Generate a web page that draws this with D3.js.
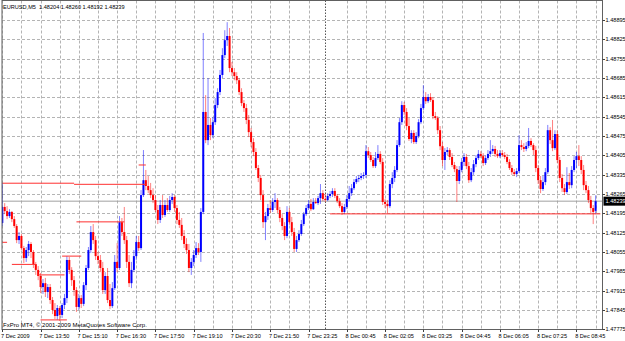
<!DOCTYPE html>
<html>
<head>
<meta charset="utf-8">
<script src="https://cdn.jsdelivr.net/npm/d3@7"></script>
<style>
  html, body { margin: 0; padding: 0; background: #fff; }
  svg { display: block; }
  text { font-family: "Liberation Sans", Arial, sans-serif; }
</style>
</head>
<body>
<div id="chart"></div>
<script>
// EURUSD M5 candlestick chart (MT4 style)

const chartTitle = "EURUSD,M5  1.48204 1.48260 1.48192 1.48239";
const copyright = "FxPro MT4, \u00a9 2001-2009 MetaQuotes Software Corp.";

const timeLabels = ["7 Dec 2009", "7 Dec 13:50", "7 Dec 15:10", "7 Dec 16:30", "7 Dec 17:50",
  "7 Dec 19:10", "7 Dec 20:30", "7 Dec 21:50", "7 Dec 23:25", "8 Dec 00:45", "8 Dec 02:05",
  "8 Dec 03:25", "8 Dec 04:45", "8 Dec 06:05", "8 Dec 07:25", "8 Dec 08:45"];

const priceTicks = [1.48895, 1.48825, 1.48755, 1.48685, 1.48615, 1.48545, 1.48475, 1.48405,
  1.48335, 1.48265, 1.48195, 1.48125, 1.48055, 1.47985, 1.47915, 1.47845, 1.47775];

const bidPrice = 1.48239;
const daySeparatorBar = 135;

const opens = [
  1.48160, 1.48218, 1.48203, 1.48185, 1.48200, 1.48174, 1.48149, 1.48098, 1.48113, 1.48069,
  1.48033, 1.48062, 1.48084, 1.48055, 1.48011, 1.47990, 1.47968, 1.47928, 1.47942, 1.47910,
  1.47928, 1.47881, 1.47845, 1.47823, 1.47852, 1.47827, 1.47863, 1.47888, 1.48026, 1.47990,
  1.47953, 1.47917, 1.47856, 1.47888, 1.47867, 1.47935, 1.47997, 1.48062, 1.48127, 1.48098,
  1.48040, 1.48026, 1.47997, 1.47917, 1.47968, 1.47881, 1.47859, 1.47924, 1.48019, 1.47997,
  1.48163, 1.48127, 1.48098, 1.48019, 1.47942, 1.47990, 1.48040, 1.48091, 1.48069, 1.48261,
  1.48315, 1.48294, 1.48279, 1.48261, 1.48243, 1.48207, 1.48171, 1.48225, 1.48189, 1.48225,
  1.48207, 1.48243, 1.48254, 1.48214, 1.48171, 1.48153, 1.48113, 1.48084, 1.48062, 1.47997,
  1.48019, 1.48044, 1.48069, 1.48055, 1.48200, 1.48562, 1.48460, 1.48515, 1.48478, 1.48525,
  1.48587, 1.48634, 1.48696, 1.48768, 1.48822, 1.48837, 1.48721, 1.48706, 1.48692, 1.48677,
  1.48634, 1.48594, 1.48576, 1.48533, 1.48489, 1.48453, 1.48417, 1.48359, 1.48323, 1.48261,
  1.48163, 1.48185, 1.48214, 1.48207, 1.48236, 1.48243, 1.48207, 1.48178, 1.48149, 1.48113,
  1.48200, 1.48163, 1.48127, 1.48066, 1.48098, 1.48120, 1.48156, 1.48192, 1.48214, 1.48229,
  1.48210, 1.48236, 1.48232, 1.48250, 1.48268, 1.48247, 1.48243, 1.48258, 1.48265, 1.48276,
  1.48258, 1.48239, 1.48221, 1.48200, 1.48218, 1.48247, 1.48268, 1.48286, 1.48308, 1.48319,
  1.48323, 1.48330, 1.48334, 1.48420, 1.48406, 1.48388, 1.48366, 1.48395, 1.48410, 1.48381,
  1.48236, 1.48229, 1.48221, 1.48301, 1.48323, 1.48352, 1.48442, 1.48525, 1.48587, 1.48562,
  1.48511, 1.48464, 1.48486, 1.48453, 1.48475, 1.48525, 1.48576, 1.48616, 1.48601, 1.48616,
  1.48605, 1.48547, 1.48540, 1.48496, 1.48438, 1.48388, 1.48417, 1.48424, 1.48399, 1.48370,
  1.48355, 1.48312, 1.48352, 1.48381, 1.48399, 1.48366, 1.48315, 1.48344, 1.48373, 1.48395,
  1.48410, 1.48402, 1.48377, 1.48395, 1.48410, 1.48420, 1.48428, 1.48410, 1.48402, 1.48413,
  1.48406, 1.48399, 1.48381, 1.48359, 1.48344, 1.48337, 1.48348, 1.48442, 1.48435, 1.48428,
  1.48439, 1.48457, 1.48442, 1.48424, 1.48359, 1.48315, 1.48283, 1.48308, 1.48344, 1.48496,
  1.48460, 1.48431, 1.48482, 1.48388, 1.48323, 1.48286, 1.48272, 1.48308, 1.48297, 1.48352,
  1.48388, 1.48402, 1.48388, 1.48352, 1.48297, 1.48279, 1.48243, 1.48214, 1.48204];

const highs = [
  1.48305, 1.48232, 1.48221, 1.48210, 1.48203, 1.48185, 1.48156, 1.48127, 1.48120, 1.48077,
  1.48073, 1.48095, 1.48091, 1.48062, 1.48019, 1.48004, 1.47979, 1.47957, 1.47961, 1.47939,
  1.47939, 1.47892, 1.47870, 1.47863, 1.47859, 1.47870, 1.47903, 1.48040, 1.48037, 1.48000,
  1.47968, 1.47928, 1.47903, 1.47899, 1.47946, 1.48008, 1.48073, 1.48149, 1.48156, 1.48113,
  1.48055, 1.48044, 1.48019, 1.47982, 1.47997, 1.47939, 1.47946, 1.48044, 1.48087, 1.48185,
  1.48178, 1.48218, 1.48113, 1.48044, 1.48019, 1.48062, 1.48113, 1.48113, 1.48279, 1.48424,
  1.48352, 1.48330, 1.48305, 1.48286, 1.48261, 1.48225, 1.48243, 1.48261, 1.48243, 1.48250,
  1.48258, 1.48268, 1.48261, 1.48225, 1.48200, 1.48178, 1.48134, 1.48105, 1.48084, 1.48033,
  1.48062, 1.48091, 1.48087, 1.48214, 1.48848, 1.48623, 1.48685, 1.48540, 1.48544, 1.48612,
  1.48648, 1.48714, 1.48793, 1.48858, 1.48887, 1.48866, 1.48743, 1.48721, 1.48706, 1.48685,
  1.48648, 1.48605, 1.48591, 1.48551, 1.48504, 1.48467, 1.48431, 1.48370, 1.48334, 1.48279,
  1.48200, 1.48229, 1.48243, 1.48250, 1.48268, 1.48250, 1.48218, 1.48192, 1.48163, 1.48221,
  1.48214, 1.48182, 1.48142, 1.48113, 1.48134, 1.48171, 1.48200, 1.48225, 1.48243, 1.48247,
  1.48250, 1.48250, 1.48258, 1.48301, 1.48279, 1.48265, 1.48268, 1.48276, 1.48286, 1.48286,
  1.48265, 1.48250, 1.48232, 1.48229, 1.48261, 1.48294, 1.48301, 1.48319, 1.48330, 1.48334,
  1.48341, 1.48344, 1.48442, 1.48435, 1.48417, 1.48399, 1.48417, 1.48442, 1.48420, 1.48395,
  1.48247, 1.48243, 1.48315, 1.48344, 1.48366, 1.48460, 1.48540, 1.48601, 1.48598, 1.48576,
  1.48540, 1.48496, 1.48496, 1.48489, 1.48536, 1.48591, 1.48659, 1.48634, 1.48627, 1.48630,
  1.48616, 1.48562, 1.48547, 1.48511, 1.48453, 1.48431, 1.48435, 1.48431, 1.48413, 1.48381,
  1.48366, 1.48366, 1.48395, 1.48413, 1.48410, 1.48381, 1.48359, 1.48388, 1.48406, 1.48424,
  1.48420, 1.48413, 1.48406, 1.48424, 1.48460, 1.48442, 1.48439, 1.48424, 1.48424, 1.48424,
  1.48417, 1.48410, 1.48391, 1.48370, 1.48355, 1.48359, 1.48478, 1.48460, 1.48449, 1.48453,
  1.48504, 1.48467, 1.48449, 1.48439, 1.48370, 1.48330, 1.48330, 1.48359, 1.48515, 1.48507,
  1.48533, 1.48496, 1.48496, 1.48399, 1.48337, 1.48301, 1.48362, 1.48341, 1.48366, 1.48402,
  1.48417, 1.48442, 1.48402, 1.48370, 1.48312, 1.48294, 1.48258, 1.48225, 1.48260];

const lows = [
  1.48149, 1.48192, 1.48174, 1.48178, 1.48163, 1.48142, 1.48087, 1.48084, 1.48062, 1.48015,
  1.48019, 1.48040, 1.48033, 1.47997, 1.47972, 1.47953, 1.47906, 1.47903, 1.47892, 1.47888,
  1.47867, 1.47830, 1.47812, 1.47809, 1.47805, 1.47816, 1.47848, 1.47870, 1.47975, 1.47932,
  1.47896, 1.47838, 1.47845, 1.47852, 1.47859, 1.47917, 1.47990, 1.48051, 1.48084, 1.48026,
  1.48011, 1.47982, 1.47903, 1.47903, 1.47870, 1.47848, 1.47852, 1.47917, 1.47982, 1.47990,
  1.48113, 1.48084, 1.47997, 1.47928, 1.47924, 1.47982, 1.48026, 1.48058, 1.48062, 1.48254,
  1.48279, 1.48268, 1.48250, 1.48232, 1.48200, 1.48156, 1.48160, 1.48178, 1.48182, 1.48200,
  1.48200, 1.48229, 1.48200, 1.48156, 1.48142, 1.48098, 1.48069, 1.48048, 1.47982, 1.47972,
  1.48004, 1.48033, 1.48044, 1.48019, 1.48192, 1.48449, 1.48442, 1.48460, 1.48467, 1.48515,
  1.48576, 1.48623, 1.48685, 1.48757, 1.48801, 1.48706, 1.48692, 1.48677, 1.48663, 1.48623,
  1.48583, 1.48562, 1.48518, 1.48471, 1.48435, 1.48402, 1.48352, 1.48308, 1.48243, 1.48142,
  1.48098, 1.48171, 1.48196, 1.48200, 1.48214, 1.48196, 1.48163, 1.48134, 1.48098, 1.48105,
  1.48153, 1.48113, 1.48055, 1.48055, 1.48091, 1.48113, 1.48149, 1.48185, 1.48207, 1.48203,
  1.48207, 1.48229, 1.48225, 1.48229, 1.48239, 1.48236, 1.48239, 1.48250, 1.48254, 1.48250,
  1.48232, 1.48214, 1.48189, 1.48192, 1.48210, 1.48239, 1.48258, 1.48279, 1.48301, 1.48308,
  1.48315, 1.48319, 1.48323, 1.48395, 1.48381, 1.48359, 1.48359, 1.48388, 1.48373, 1.48225,
  1.48214, 1.48196, 1.48214, 1.48286, 1.48308, 1.48344, 1.48435, 1.48515, 1.48551, 1.48496,
  1.48457, 1.48449, 1.48446, 1.48446, 1.48467, 1.48518, 1.48569, 1.48591, 1.48594, 1.48598,
  1.48536, 1.48533, 1.48482, 1.48424, 1.48366, 1.48352, 1.48406, 1.48388, 1.48362, 1.48344,
  1.48236, 1.48301, 1.48344, 1.48366, 1.48355, 1.48305, 1.48308, 1.48334, 1.48362, 1.48388,
  1.48395, 1.48366, 1.48370, 1.48388, 1.48399, 1.48410, 1.48399, 1.48395, 1.48395, 1.48399,
  1.48391, 1.48373, 1.48352, 1.48334, 1.48330, 1.48326, 1.48341, 1.48424, 1.48417, 1.48420,
  1.48431, 1.48435, 1.48406, 1.48344, 1.48301, 1.48268, 1.48276, 1.48297, 1.48337, 1.48446,
  1.48420, 1.48424, 1.48377, 1.48308, 1.48272, 1.48261, 1.48265, 1.48283, 1.48286, 1.48344,
  1.48359, 1.48366, 1.48337, 1.48279, 1.48268, 1.48232, 1.48192, 1.48156, 1.48192];

const closes = [
  1.48218, 1.48203, 1.48185, 1.48200, 1.48174, 1.48149, 1.48098, 1.48113, 1.48069, 1.48033,
  1.48062, 1.48084, 1.48055, 1.48011, 1.47990, 1.47968, 1.47928, 1.47942, 1.47910, 1.47928,
  1.47881, 1.47845, 1.47823, 1.47852, 1.47827, 1.47863, 1.47888, 1.48026, 1.47990, 1.47953,
  1.47917, 1.47856, 1.47888, 1.47867, 1.47935, 1.47997, 1.48062, 1.48127, 1.48098, 1.48040,
  1.48026, 1.47997, 1.47917, 1.47968, 1.47881, 1.47859, 1.47924, 1.48019, 1.47997, 1.48163,
  1.48127, 1.48098, 1.48019, 1.47942, 1.47990, 1.48040, 1.48091, 1.48069, 1.48261, 1.48315,
  1.48294, 1.48279, 1.48261, 1.48243, 1.48207, 1.48171, 1.48225, 1.48189, 1.48225, 1.48207,
  1.48243, 1.48254, 1.48214, 1.48171, 1.48153, 1.48113, 1.48084, 1.48062, 1.47997, 1.48019,
  1.48044, 1.48069, 1.48055, 1.48200, 1.48562, 1.48460, 1.48515, 1.48478, 1.48525, 1.48587,
  1.48634, 1.48696, 1.48768, 1.48822, 1.48837, 1.48721, 1.48706, 1.48692, 1.48677, 1.48634,
  1.48594, 1.48576, 1.48533, 1.48489, 1.48453, 1.48417, 1.48359, 1.48323, 1.48261, 1.48163,
  1.48185, 1.48214, 1.48207, 1.48236, 1.48243, 1.48207, 1.48178, 1.48149, 1.48113, 1.48200,
  1.48163, 1.48127, 1.48066, 1.48098, 1.48120, 1.48156, 1.48192, 1.48214, 1.48229, 1.48210,
  1.48236, 1.48232, 1.48250, 1.48268, 1.48247, 1.48243, 1.48258, 1.48265, 1.48276, 1.48258,
  1.48239, 1.48221, 1.48200, 1.48218, 1.48247, 1.48268, 1.48286, 1.48308, 1.48319, 1.48323,
  1.48330, 1.48334, 1.48420, 1.48406, 1.48388, 1.48366, 1.48395, 1.48410, 1.48381, 1.48236,
  1.48229, 1.48221, 1.48301, 1.48323, 1.48352, 1.48442, 1.48525, 1.48587, 1.48562, 1.48511,
  1.48464, 1.48486, 1.48453, 1.48475, 1.48525, 1.48576, 1.48616, 1.48601, 1.48616, 1.48605,
  1.48547, 1.48540, 1.48496, 1.48438, 1.48388, 1.48417, 1.48424, 1.48399, 1.48370, 1.48355,
  1.48312, 1.48352, 1.48381, 1.48399, 1.48366, 1.48315, 1.48344, 1.48373, 1.48395, 1.48410,
  1.48402, 1.48377, 1.48395, 1.48410, 1.48420, 1.48428, 1.48410, 1.48402, 1.48413, 1.48406,
  1.48399, 1.48381, 1.48359, 1.48344, 1.48337, 1.48348, 1.48442, 1.48435, 1.48428, 1.48439,
  1.48457, 1.48442, 1.48424, 1.48359, 1.48315, 1.48283, 1.48308, 1.48344, 1.48496, 1.48460,
  1.48431, 1.48482, 1.48388, 1.48323, 1.48286, 1.48272, 1.48308, 1.48297, 1.48352, 1.48388,
  1.48402, 1.48388, 1.48352, 1.48297, 1.48279, 1.48243, 1.48214, 1.48200, 1.48239];

// horizontal level lines drawn on the chart (price, first bar, last bar)
const levelPrices = [1.48304, 1.48300, 1.48370, 1.48164, 1.48090, 1.48040, 1.48010, 1.47972, 1.47809, 1.48193];
const levelFrom   = [0, 30, 57, 31, 0, 25, 4, 15, 16, 137];
const levelTo     = [30, 60, 60, 51, 2, 33, 14, 26, 27, 250];

const width = 625, height = 341;
const plotLeft = 2, plotRight = 602.5, plotTop = 0.5, plotBottom = 329.5;
const bullColor = "#0000ff", bearColor = "#ff0000";

const svg = d3.select("#chart").append("svg")
  .attr("width", width)
  .attr("height", height);

svg.append("rect").attr("width", width).attr("height", height).attr("fill", "#ffffff");

const x = d3.scaleLinear().domain([0, closes.length - 1]).range([2.3, 595.6]);
const y = d3.scaleLinear().domain([1.47775, 1.48895]).range([329.3, 20]);
const snap = v => Math.round(v) + 0.5;

svg.append("clipPath").attr("id", "plot-clip")
  .append("rect")
  .attr("x", plotLeft).attr("y", plotTop)
  .attr("width", plotRight - plotLeft).attr("height", plotBottom - plotTop);

const plot = svg.append("g").attr("clip-path", "url(#plot-clip)");

// grid
const gridBars = d3.range(0, closes.length + 1, 8).filter(b => b !== 136);
plot.selectAll(".vgrid")
  .data(gridBars)
  .join("line")
  .attr("x1", b => snap(x(b))).attr("x2", b => snap(x(b)))
  .attr("y1", plotTop).attr("y2", plotBottom)
  .attr("stroke", "#b4b4b4")
  .attr("stroke-dasharray", "3,2");

plot.selectAll(".hgrid")
  .data(priceTicks)
  .join("line")
  .attr("x1", plotLeft).attr("x2", plotRight)
  .attr("y1", p => snap(y(p))).attr("y2", p => snap(y(p)))
  .attr("stroke", "#b4b4b4")
  .attr("stroke-dasharray", "3,2");

// day separator
plot.append("line")
  .attr("x1", snap(x(daySeparatorBar))).attr("x2", snap(x(daySeparatorBar)))
  .attr("y1", plotTop).attr("y2", plotBottom)
  .attr("stroke", "#555")
  .attr("stroke-dasharray", "1.5,1.5");

// bid line
plot.append("line")
  .attr("x1", plotLeft).attr("x2", plotRight)
  .attr("y1", y(bidPrice)).attr("y2", y(bidPrice))
  .attr("stroke", "#a0a0a0");

// candles
const bars = d3.range(closes.length);
const candleColor = i => closes[i] >= opens[i] ? bullColor : bearColor;

plot.selectAll(".wick")
  .data(bars)
  .join("line")
  .attr("x1", i => x(i)).attr("x2", i => x(i))
  .attr("y1", i => y(highs[i])).attr("y2", i => y(lows[i]))
  .attr("stroke", candleColor)
  .attr("stroke-width", 1)
  .attr("stroke-opacity", 0.5);

plot.selectAll(".body")
  .data(bars)
  .join("rect")
  .attr("x", i => x(i) - 1)
  .attr("width", 2)
  .attr("y", i => y(Math.max(opens[i], closes[i])))
  .attr("height", i => Math.max(0.9, Math.abs(y(opens[i]) - y(closes[i]))))
  .attr("fill", candleColor);

// level lines
plot.selectAll(".level")
  .data(levelPrices)
  .join("line")
  .attr("x1", (p, k) => x(levelFrom[k])).attr("x2", (p, k) => x(levelTo[k]))
  .attr("y1", p => y(p)).attr("y2", p => y(p))
  .attr("stroke", "#ff3030")
  .attr("stroke-width", 1);

// frame
svg.append("rect")
  .attr("x", plotLeft).attr("y", plotTop)
  .attr("width", plotRight - plotLeft).attr("height", plotBottom - plotTop)
  .attr("fill", "none")
  .attr("stroke", "#606060");

// price axis
svg.selectAll(".ptick")
  .data(priceTicks)
  .join("line")
  .attr("x1", plotRight).attr("x2", plotRight + 2.5)
  .attr("y1", p => snap(y(p))).attr("y2", p => snap(y(p)))
  .attr("stroke", "#404040");

svg.selectAll(".plabel")
  .data(priceTicks)
  .join("text")
  .attr("x", 605.5)
  .attr("y", p => y(p) + 2)
  .attr("font-size", "5.6px")
  .attr("fill", "#000")
  .text(p => p.toFixed(5));

// current price box
svg.append("rect")
  .attr("x", 603.5).attr("y", y(bidPrice) - 4.5)
  .attr("width", 22).attr("height", 9)
  .attr("fill", "#000");
svg.append("text")
  .attr("x", 605.5).attr("y", y(bidPrice) + 2)
  .attr("font-size", "5.6px")
  .attr("fill", "#fff")
  .text(bidPrice.toFixed(5));

// time axis
const timeBars = timeLabels.map((t, k) => k * 16);
svg.selectAll(".ttick")
  .data(timeBars)
  .join("line")
  .attr("x1", b => snap(x(b))).attr("x2", b => snap(x(b)))
  .attr("y1", plotBottom).attr("y2", plotBottom + 2.5)
  .attr("stroke", "#404040");

svg.selectAll(".tlabel")
  .data(timeLabels)
  .join("text")
  .attr("x", (t, k) => x(timeBars[k]) - 1.3)
  .attr("y", 337.5)
  .attr("font-size", "5.6px")
  .attr("fill", "#000")
  .text(t => t);

svg.append("text")
  .attr("x", 3).attr("y", 8.5)
  .attr("font-size", "5.6px")
  .attr("fill", "#000")
  .attr("xml:space", "preserve")
  .text(chartTitle);

svg.append("text")
  .attr("x", 3).attr("y", 327)
  .attr("font-size", "6px")
  .attr("fill", "#000")
  .text(copyright);
</script>
</body>
</html>
